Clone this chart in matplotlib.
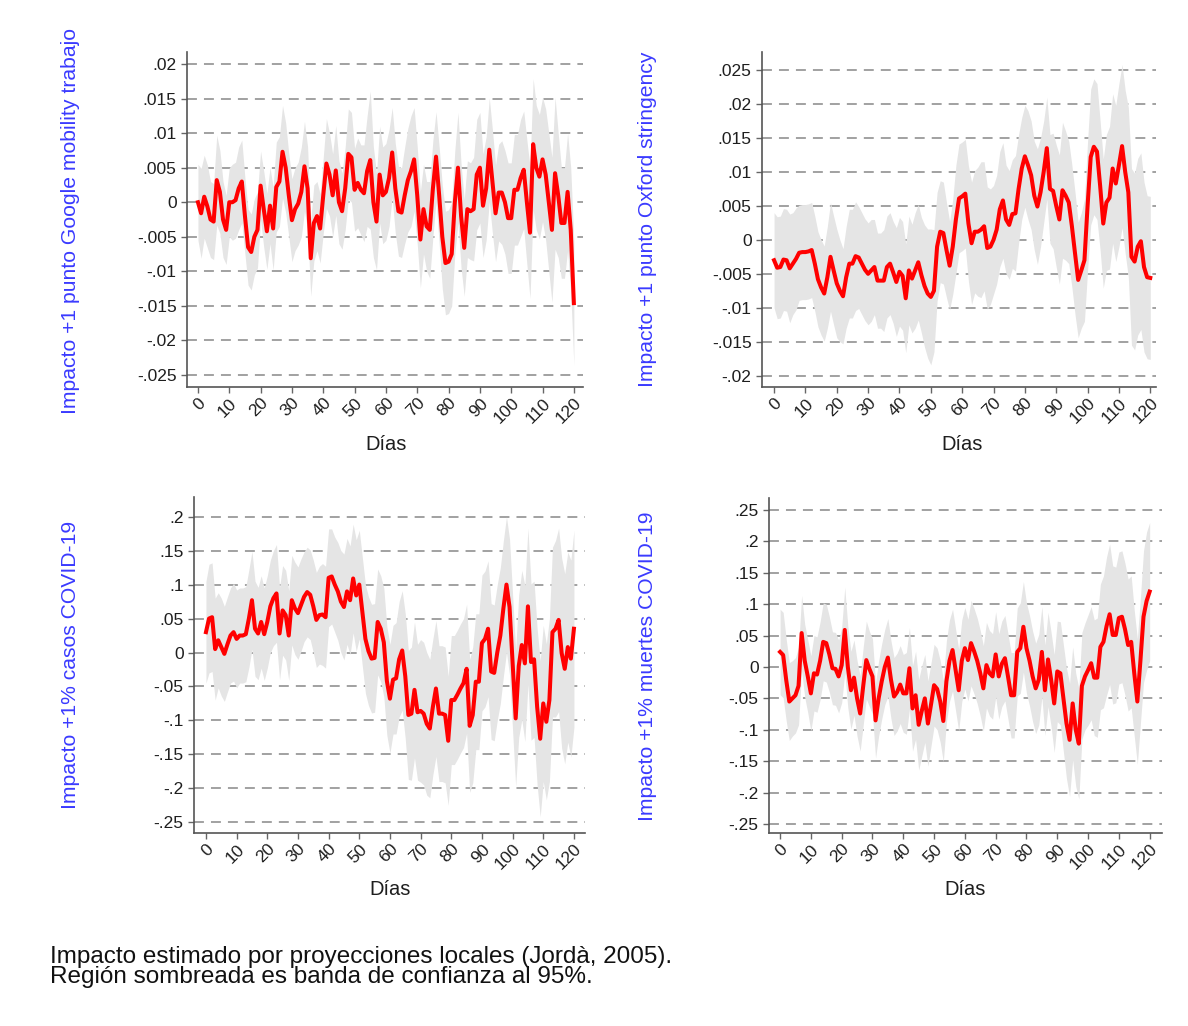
import numpy as np
import matplotlib.pyplot as plt

plt.rcParams['font.family'] = ['Liberation Sans', 'DejaVu Sans']

dias = np.arange(121)

# Impacto +1 punto Google mobility trabajo (en milesimas)
mob = [0, -1.6, 0.8, -0.6, -2.5, -2.8, 3.2, 1.5, -2.5, -4.0,
       0, 0, 0.3, 2.0, 3.0, -2.0, -6.5, -7.2, -5.0, -4.0,
       2.4, -1.0, -4.2, -0.5, -3.8, 2.2, 3.0, 7.3, 5.0, 1.0,
       -2.6, -1.0, -0.2, 1.5, 5.2, 2.0, -8.1, -3.0, -2.0, -3.8,
       1.0, 5.6, 4.0, 1.0, 4.6, 0, -1.3, 2.0, 7.0, 6.5,
       1.8, 2.8, 1.8, 1.3, 4.5, 6.1, 0, -2.8, 4.0, 1.0,
       1.5, 3.5, 7.2, 2.0, -1.3, -1.5, 1.0, 3.2, 4.5, 6.2,
       1.0, -5.4, -1.0, -3.5, -4.0, 2.0, 6.6, 1.0, -5.0, -8.8,
       -8.6, -7.5, 0, 5.0, -2.0, -6.6, -1.0, -1.3, -1.0, 4.0,
       5.0, -0.5, 2.0, 7.6, 3.0, -1.6, 1.4, 1.4, 0, -2.3,
       -2.3, 1.8, 1.8, 3.5, 4.7, 0, -4.4, 8.4, 5.0, 3.7,
       6.2, 4.0, 0, -4.0, 4.2, 1.0, -3.0, -3.0, 1.5, -4.0,
       -14.6]
mob_hw = [5.5, 6.5, 6.0, 6.0, 5.5, 5.5, 6.5, 6.0, 5.5, 5.0,
          5.0, 5.5, 5.5, 6.0, 6.0, 5.5, 5.5, 5.5, 5.5, 5.5,
          5.0, 5.5, 5.5, 5.5, 6.0, 6.5, 6.5, 6.7, 6.5, 6.0,
          6.0, 6.0, 6.0, 6.5, 6.5, 6.0, 5.5, 5.5, 5.0, 5.0,
          5.5, 6.5, 6.0, 6.0, 6.5, 6.0, 5.5, 6.0, 6.5, 6.5,
          6.0, 6.5, 6.5, 7.0, 8.0, 10.0, 8.0, 7.0, 7.0, 7.0,
          7.0, 7.0, 6.5, 6.5, 6.5, 6.5, 7.0, 7.5, 8.0, 7.5,
          7.0, 7.0, 6.5, 6.5, 7.0, 7.0, 6.5, 7.0, 7.5, 7.5,
          7.5, 7.5, 7.5, 8.0, 7.5, 7.0, 7.0, 7.0, 7.5, 8.0,
          8.0, 7.5, 7.5, 7.5, 7.5, 7.0, 7.0, 7.5, 7.5, 8.0,
          8.0, 8.0, 8.0, 8.5, 8.5, 9.0, 9.5, 9.5, 9.0, 9.0,
          9.0, 9.5, 10.0, 10.5, 11.0, 9.0, 8.0, 8.0, 8.5, 9.0,
          9.0]

# Impacto +1 punto Oxford stringency (en milesimas)
oxf = [-3.0, -4.1, -4.0, -2.9, -3.0, -4.2, -3.5, -2.8, -1.9, -1.8,
       -1.8, -1.7, -1.5, -3.5, -5.8, -7.0, -7.9, -5.5, -2.5, -4.5,
       -6.4, -7.5, -8.3, -5.5, -3.5, -3.5, -2.4, -2.6, -3.5, -4.4,
       -5.0, -4.5, -4.0, -6.0, -6.0, -6.0, -4.0, -3.5, -4.8, -6.2,
       -4.7, -5.3, -8.6, -4.5, -5.7, -4.5, -3.3, -5.2, -6.8, -7.9,
       -8.4, -7.5, -1.0, 1.2, 1.0, -1.5, -3.8, -1.0, 3.0, 6.1,
       6.4, 6.8, 2.4, -0.5, 1.2, 1.2, 1.5, 2.0, -1.2, -1.0,
       0.0, 1.5, 4.5, 5.8, 3.0, 2.2, 3.8, 3.9, 7.5, 10.5,
       12.3, 11.0, 9.5, 6.5, 4.9, 7.0, 10.0, 13.5, 7.5, 7.2,
       5.0, 3.0, 7.3, 6.5, 5.5, 2.0, -2.0, -5.9, -4.5, -3.0,
       5.0, 12.2, 13.7, 13.0, 8.0, 2.4, 5.5, 6.2, 10.5, 8.3,
       11.0, 13.8, 10.0, 7.0, -2.5, -3.2, -1.0, -0.2, -4.0, -5.5,
       -5.6]
oxf_hw = [7.0, 7.5, 7.5, 7.5, 7.5, 8.0, 7.5, 7.5, 7.0, 7.0,
          7.0, 7.0, 7.0, 7.0, 7.0, 7.0, 7.0, 7.5, 8.0, 8.0,
          8.0, 7.5, 7.0, 7.5, 8.0, 8.0, 8.0, 7.5, 7.5, 7.5,
          7.5, 7.5, 7.0, 7.0, 7.0, 7.5, 7.5, 7.5, 7.5, 8.0,
          8.0, 8.0, 8.0, 8.0, 8.0, 8.5, 8.5, 8.5, 9.0, 9.5,
          10.0, 9.0, 8.0, 7.5, 7.5, 7.0, 6.5, 7.0, 8.0, 8.0,
          8.0, 8.0, 8.5, 9.0, 9.0, 9.5, 10.0, 9.5, 9.0, 8.5,
          8.0, 8.0, 8.5, 8.5, 8.0, 8.0, 8.0, 8.5, 8.0, 7.5,
          7.5, 8.0, 8.0, 8.0, 8.5, 8.0, 7.5, 7.5, 8.0, 8.5,
          9.0, 9.5, 10.0, 9.5, 9.0, 9.0, 9.0, 8.5, 8.5, 9.0,
          9.5, 10.0, 10.0, 10.0, 9.5, 9.5, 10.0, 10.5, 11.0, 11.5,
          12.0, 12.0, 12.0, 12.5, 13.0, 13.0, 13.0, 13.0, 12.5, 12.0,
          12.0]

# Impacto +1% casos COVID-19
casos = [0.030, 0.050, 0.052, 0.005, 0.018, 0.008, -0.002, 0.012, 0.025, 0.030,
         0.020, 0.025, 0.025, 0.027, 0.050, 0.077, 0.035, 0.028, 0.045, 0.027,
         0.045, 0.068, 0.080, 0.087, 0.028, 0.062, 0.055, 0.025, 0.077, 0.065,
         0.058, 0.070, 0.082, 0.089, 0.085, 0.068, 0.048, 0.055, 0.056, 0.052,
         0.110, 0.112, 0.100, 0.090, 0.075, 0.067, 0.090, 0.077, 0.109, 0.084,
         0.100, 0.060, 0.020, 0.002, -0.009, -0.008, 0.045, 0.035, 0.015, -0.042,
         -0.068, -0.040, -0.038, -0.010, 0.003, -0.035, -0.092, -0.090, -0.055, -0.088,
         -0.086, -0.090, -0.105, -0.112, -0.080, -0.053, -0.090, -0.090, -0.092, -0.130,
         -0.070, -0.070, -0.062, -0.053, -0.045, -0.024, -0.108, -0.092, -0.043, -0.043,
         0.014, 0.020, 0.035, -0.028, -0.030, 0.000, 0.025, 0.065, 0.100, 0.067,
         -0.015, -0.097, -0.020, 0.011, -0.016, 0.068, -0.014, -0.010, -0.080, -0.127,
         -0.075, -0.102, -0.070, 0.030, 0.035, 0.048, -0.001, -0.024, 0.008, -0.009,
         0.035]
casos_hw = [0.075, 0.080, 0.080, 0.075, 0.070, 0.072, 0.070, 0.070, 0.070, 0.072,
            0.072, 0.070, 0.070, 0.070, 0.072, 0.072, 0.070, 0.068, 0.068, 0.068,
            0.068, 0.068, 0.070, 0.072, 0.068, 0.066, 0.066, 0.066, 0.066, 0.068,
            0.068, 0.068, 0.066, 0.066, 0.066, 0.068, 0.070, 0.072, 0.075, 0.075,
            0.072, 0.070, 0.070, 0.072, 0.075, 0.078, 0.078, 0.080, 0.080, 0.082,
            0.080, 0.080, 0.080, 0.080, 0.080, 0.080, 0.078, 0.078, 0.080, 0.080,
            0.080, 0.080, 0.082, 0.085, 0.088, 0.092, 0.095, 0.098, 0.100, 0.100,
            0.105, 0.105, 0.105, 0.102, 0.100, 0.100, 0.100, 0.100, 0.100, 0.095,
            0.095, 0.095, 0.095, 0.095, 0.095, 0.095, 0.098, 0.100, 0.100, 0.100,
            0.100, 0.100, 0.100, 0.100, 0.100, 0.100, 0.100, 0.100, 0.100, 0.100,
            0.100, 0.100, 0.105, 0.110, 0.115, 0.115, 0.115, 0.115, 0.115, 0.115,
            0.115, 0.115, 0.120, 0.125, 0.130, 0.135, 0.140, 0.140, 0.140, 0.145,
            0.145]

# Impacto +1% muertes COVID-19
muertes = [0.024, 0.019, -0.021, -0.055, -0.050, -0.045, -0.030, 0.054, 0.010, -0.015,
           -0.042, -0.010, -0.012, 0.010, 0.040, 0.038, 0.020, -0.002, -0.003, -0.015,
           0.003, 0.059, 0.000, -0.037, -0.017, -0.050, -0.074, -0.030, 0.011, -0.003,
           -0.015, -0.085, -0.050, -0.023, 0.000, 0.015, -0.020, -0.047, -0.040, -0.028,
           -0.042, -0.042, -0.002, -0.066, -0.045, -0.092, -0.070, -0.050, -0.090, -0.060,
           -0.029, -0.035, -0.055, -0.086, -0.023, 0.010, 0.027, -0.005, -0.037, 0.010,
           0.030, 0.011, 0.038, 0.025, 0.010, -0.010, -0.034, 0.003, -0.010, -0.015,
           0.020, -0.015, 0.005, 0.014, -0.015, -0.045, -0.045, 0.024, 0.030, 0.064,
           0.030, 0.010, -0.015, -0.034, -0.020, 0.024, -0.037, 0.012, -0.020, -0.058,
           -0.007, -0.010, -0.050, -0.090, -0.116, -0.058, -0.100, -0.122, -0.030, -0.015,
           -0.005, 0.006, -0.017, -0.017, 0.032, 0.040, 0.065, 0.084, 0.051, 0.051,
           0.078, 0.080, 0.060, 0.035, 0.040, -0.010, -0.055, 0.010, 0.080, 0.105,
           0.120]
muertes_hw = [0.068, 0.068, 0.065, 0.062, 0.060, 0.060, 0.062, 0.060, 0.058, 0.058,
              0.060, 0.060, 0.060, 0.062, 0.062, 0.062, 0.060, 0.058, 0.058, 0.058,
              0.060, 0.068, 0.065, 0.062, 0.060, 0.060, 0.060, 0.062, 0.062, 0.060,
              0.060, 0.060, 0.060, 0.060, 0.060, 0.062, 0.062, 0.062, 0.062, 0.062,
              0.062, 0.065, 0.065, 0.068, 0.070, 0.072, 0.072, 0.070, 0.068, 0.066,
              0.065, 0.065, 0.065, 0.065, 0.065, 0.065, 0.065, 0.065, 0.065, 0.065,
              0.065, 0.065, 0.068, 0.068, 0.068, 0.068, 0.068, 0.068, 0.068, 0.068,
              0.068, 0.068, 0.068, 0.068, 0.068, 0.068, 0.068, 0.070, 0.072, 0.072,
              0.072, 0.072, 0.072, 0.072, 0.072, 0.072, 0.072, 0.075, 0.075, 0.078,
              0.080, 0.082, 0.085, 0.088, 0.090, 0.090, 0.090, 0.088, 0.085, 0.085,
              0.088, 0.090, 0.092, 0.095, 0.100, 0.105, 0.110, 0.112, 0.110, 0.108,
              0.105, 0.105, 0.105, 0.105, 0.105, 0.100, 0.100, 0.100, 0.105, 0.110,
              0.110]


def stata_fmt(v, pos=None):
    v = round(v, 4)
    if v == 0:
        return '0'
    return f'{v:g}'.replace('0.', '.', 1)


fig = plt.figure(figsize=(11.88, 10.26), dpi=100)

panels = [
    # rect, y, hw, escala, yticks, ylim, xlim, ylabel, label x, label y, dias xy
    ([0.1574, 0.6228, 0.3333, 0.3265], mob, mob_hw, 0.001,
     np.arange(-0.025, 0.0201, 0.005), (-0.02674, 0.02174), (-3.5, 122.9),
     'Impacto +1 punto Google mobility trabajo', 0.059, 0.785, (0.325, 0.567)),
    ([0.6414, 0.6228, 0.3316, 0.3265], oxf, oxf_hw, 0.001,
     np.arange(-0.02, 0.0251, 0.005), (-0.02166, 0.02765), (-3.85, 121.8),
     'Impacto +1 punto Oxford stringency', 0.545, 0.786, (0.810, 0.567)),
    ([0.1633, 0.1881, 0.3291, 0.3275], casos, casos_hw, 1.0,
     np.arange(-0.25, 0.201, 0.05), (-0.2658, 0.229), (-3.9, 123.6),
     'Impacto +1% casos COVID-19', 0.059, 0.352, (0.328, 0.133)),
    ([0.6473, 0.1881, 0.3308, 0.3265], muertes, muertes_hw, 1.0,
     np.arange(-0.25, 0.251, 0.05), (-0.2643, 0.269), (-3.6, 124.0),
     'Impacto +1% muertes COVID-19', 0.545, 0.351, (0.812, 0.133)),
]

for rect, y, hw, esc, yt, yl, xl, lab, lx, ly, dxy in panels:
    ax = fig.add_axes(rect)
    y = np.array(y) * esc
    hw = np.array(hw) * esc
    ax.fill_between(dias, y - hw, y + hw, color='#e5e5e5', linewidth=0, zorder=1)
    ax.plot(dias, y, color='#ff0000', linewidth=2.9, zorder=3)

    ax.set_xlim(*xl)
    ax.set_ylim(*yl)
    ax.set_yticks(yt)
    ax.set_yticklabels([stata_fmt(v) for v in yt])
    ax.set_xticks(np.arange(0, 121, 10))
    ax.set_xticklabels([str(d) for d in range(0, 121, 10)],
                       rotation=45, ha='right', rotation_mode='anchor')

    ax.yaxis.grid(True, linestyle=(0, (5.5, 3.9)), color='#9a9a9a', linewidth=1.3, zorder=0)
    ax.set_axisbelow(True)
    for s in ['top', 'right']:
        ax.spines[s].set_visible(False)
    for s in ['left', 'bottom']:
        ax.spines[s].set_color('#555555')
        ax.spines[s].set_linewidth(1.2)
    ax.tick_params(axis='both', colors='#666666', labelcolor='#1e1e1e',
                   labelsize=12.5, length=4, width=1.0)
    ax.tick_params(axis='x', pad=2)

    fig.text(lx, ly, lab, rotation=90, ha='center', va='center',
             fontsize=15.2, color='#3a3aff')
    fig.text(dxy[0], dxy[1], 'Días', ha='center', va='center', fontsize=14.5, color='#1e1e1e')

fig.text(0.042, 0.0575, 'Impacto estimado por proyecciones locales (Jordà, 2005).\n'
         'Región sombreada es banda de confianza al 95%.',
         ha='left', va='center', fontsize=17.5, linespacing=0.9, color='#111111')

fig.savefig('out.png', dpi=100)
